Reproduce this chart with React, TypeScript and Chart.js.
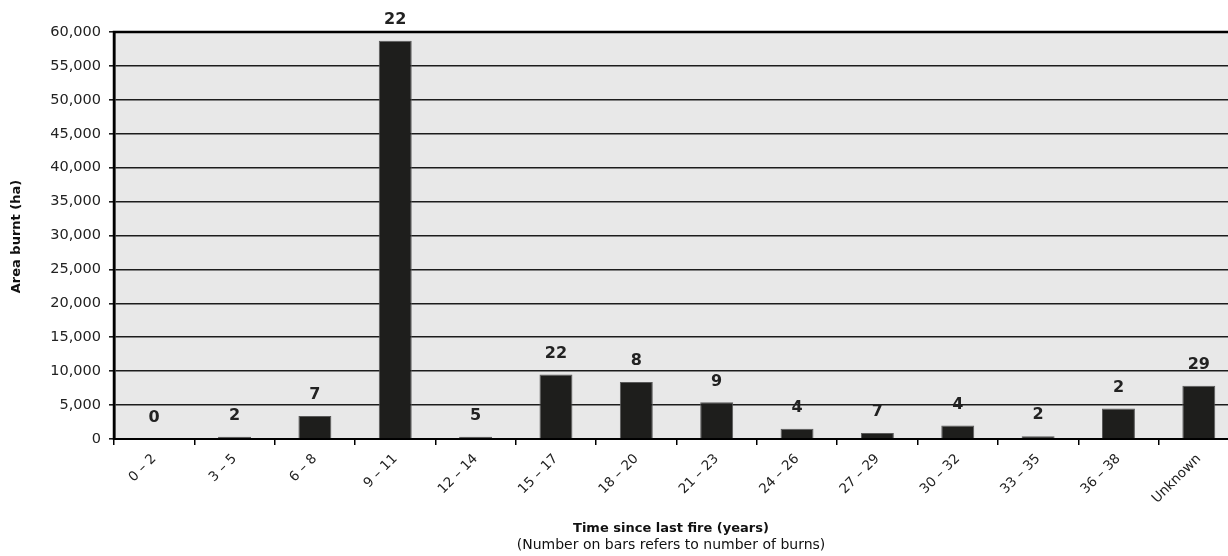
import React, { useEffect, useRef } from "react";
import { Chart, registerables } from "chart.js";

Chart.register(...registerables);

const categories = ["0 – 2", "3 – 5", "6 – 8", "9 – 11", "12 – 14", "15 – 17", "18 – 20", "21 – 23", "24 – 26", "27 – 29", "30 – 32", "33 – 35", "36 – 38", "Unknown"];
const areaBurnt = [0, 350, 3400, 58700, 350, 9500, 8400, 5400, 1500, 900, 2000, 400, 4500, 7850];
const burnCounts = ["0", "2", "7", "22", "5", "22", "8", "9", "4", "7", "4", "2", "2", "29"];
const yTitle = "Area burnt (ha)";
const xTitle = "Time since last fire (years)";
const xSubtitle = "(Number on bars refers to number of burns)";

const FONT = "'DejaVu Sans', Verdana, sans-serif";
const CANVAS_W = 1239;

export default function App() {
  const ref = useRef<HTMLCanvasElement>(null);
  useEffect(() => {
    document.body.style.margin = "0";
    const ctx = ref.current!.getContext("2d")!;
    const bgPlugin = {
      id: "bg",
      beforeDraw(chart: any) {
        const { ctx, chartArea: a } = chart;
        ctx.save();
        ctx.fillStyle = "#e8e8e8";
        ctx.fillRect(a.left, a.top, a.right - a.left, a.bottom - a.top);
        ctx.restore();
      },
      afterDraw(chart: any) {
        const { ctx, chartArea: a } = chart;
        ctx.save();
        ctx.strokeStyle = "#000";
        ctx.lineWidth = 2.5;
        ctx.beginPath();
        ctx.moveTo(a.left, a.bottom + 1);
        ctx.lineTo(a.left, a.top);
        ctx.lineTo(a.right, a.top);
        ctx.stroke();
        const meta = chart.getDatasetMeta(0);
        ctx.fillStyle = "#222";
        ctx.font = `bold 16px ${FONT}`;
        ctx.textAlign = "center";
        ctx.textBaseline = "middle";
        meta.data.forEach((bar: any, i: number) => {
          ctx.fillText(burnCounts[i], bar.x, bar.y - 21);
        });
        ctx.fillStyle = "#111";
        ctx.font = `bold 13px ${FONT}`;
        ctx.textBaseline = "middle";
        const cx = 671;
        ctx.fillText(xTitle, cx, 529);
        ctx.font = `14px ${FONT}`;
        ctx.fillText(xSubtitle, cx, 545);
        ctx.translate(17, (a.top + a.bottom) / 2 + 1);
        ctx.rotate(-Math.PI / 2);
        ctx.font = `bold 13px ${FONT}`;
        ctx.fillText(yTitle, 0, 0);
        ctx.restore();
      },
    };
    const chart = new Chart(ctx, {
      type: "bar",
      data: {
        labels: categories,
        datasets: [
          {
            data: areaBurnt,
            backgroundColor: "#1e1e1c",
            borderColor: "#5a5a5a",
            borderWidth: 1,
            barPercentage: 0.41,
            categoryPercentage: 1,
          },
        ],
      },
      options: {
        animation: false,
        responsive: false,
        layout: { padding: { top: 32, right: 0, left: 0, bottom: 0 } },
        plugins: { legend: { display: false }, tooltip: { enabled: false } },
        scales: {
          x: {
            afterFit(scale: any) {
              scale.height = 117;
            },
            grid: {
              drawOnChartArea: false,
              drawTicks: true,
              tickLength: 6,
              color: "#000",
              lineWidth: 1.5,
              offset: true,
            },
            border: { color: "#000", width: 2 },
            ticks: {
              color: "#222",
              font: { family: FONT, size: 13.5 },
              maxRotation: 45,
              minRotation: 45,
              padding: 6,
              autoSkip: false,
            },
          },
          y: {
            min: 0,
            max: 60000,
            afterFit(scale: any) {
              scale.width = 114;
            },
            grid: {
              color: "#1c1c1c",
              lineWidth: 1.6,
              tickLength: 5,
            },
            border: { color: "#000", width: 2.5 },
            ticks: {
              stepSize: 5000,
              color: "#222",
              font: { family: FONT, size: 14.5 },
              padding: 8,
              callback: (v: any) => Number(v).toLocaleString("en-US"),
            },
          },
        },
      },
      plugins: [bgPlugin],
    });
    return () => chart.destroy();
  }, []);
  return (
    <div style={{ position: "absolute", left: 0, top: 0, width: 1228, height: 556, overflow: "hidden" }}>
      <canvas ref={ref} width={CANVAS_W} height={556} style={{ width: CANVAS_W, height: 556 }} />
    </div>
  );
}
